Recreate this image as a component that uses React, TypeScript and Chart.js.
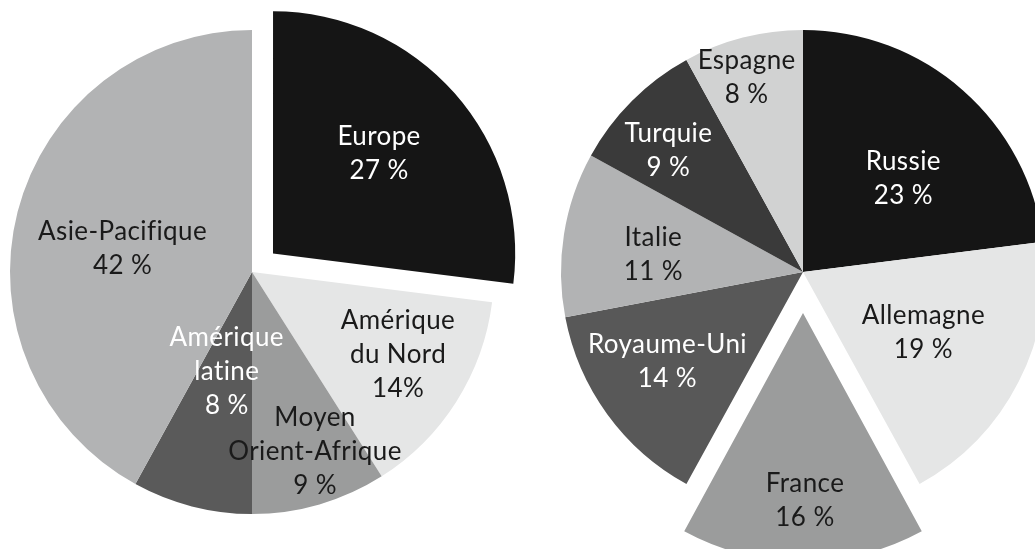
import React, { useEffect, useRef } from "react";
import { Chart, registerables } from "chart.js";

Chart.register(...registerables);

// ---------- Data ----------
const leftCategories = ["Europe", "Amérique du Nord", "Moyen Orient-Afrique", "Amérique latine", "Asie-Pacifique"];
const leftValues = [27, 14, 9, 8, 42];
const leftLabelLines = [
  ["Europe", "27 %"],
  ["Amérique", "du Nord", "14%"],
  ["Moyen", "Orient-Afrique", "9 %"],
  ["Amérique", "latine", "8 %"],
  ["Asie-Pacifique", "42 %"],
];

const rightCategories = ["Russie", "Allemagne", "France", "Royaume-Uni", "Italie", "Turquie", "Espagne"];
const rightValues = [23, 19, 16, 14, 11, 9, 8];
const rightLabelLines = [
  ["Russie", "23 %"],
  ["Allemagne", "19 %"],
  ["France", "16 %"],
  ["Royaume-Uni", "14 %"],
  ["Italie", "11 %"],
  ["Turquie", "9 %"],
  ["Espagne", "8 %"],
];

// ---------- Styles ----------
// Chart.js translates an offset slice by offset / 4 pixels
const leftColors = ["#151515", "#e5e6e6", "#9b9c9c", "#5a5a5a", "#b2b3b4"];
const leftOffsets = [112, 0, 0, 0, 0];
const leftTextColors = ["#ffffff", "#1a1a1a", "#1a1a1a", "#ffffff", "#1a1a1a"];
const leftLabelAngles = [47.0, 119.3, 160.6, 194.3, 280.5];
const leftLabelRadii = [0.718, 0.692, 0.784, 0.422, 0.544];

const rightColors = ["#151515", "#e5e6e6", "#9b9c9c", "#585858", "#b2b3b4", "#3a3a3a", "#d1d2d2"];
const rightOffsets = [0, 0, 164, 0, 0, 0, 0];
const rightTextColors = ["#ffffff", "#1a1a1a", "#1a1a1a", "#ffffff", "#1a1a1a", "#ffffff", "#1a1a1a"];
const rightLabelAngles = [46.9, 116.5, 179.5, 236.6, 277.0, 312.3, 343.9];
const rightLabelRadii = [0.568, 0.556, 0.942, 0.671, 0.623, 0.752, 0.839];

const FONT_FAMILY = "Lato";
const FONT_SIZE = 26;
const LETTER_SPACING = "0.4px";
const LINE_HEIGHT = 34;
const PIE_RADIUS = 242;

type PieCfg = {
  categories: string[];
  values: number[];
  colors: string[];
  offsets: number[];
  lines: string[][];
  textColors: string[];
  angles: number[];
  radii: number[];
};

const labelPlugin = {
  id: "sliceLabels",
  afterDatasetsDraw(chart: any, _args: any, opts: any) {
    const cfg: PieCfg = opts.cfg;
    if (!cfg) return;
    const meta = chart.getDatasetMeta(0);
    const ctx = chart.ctx;
    ctx.save();
    ctx.font = `${FONT_SIZE}px ${FONT_FAMILY}`;
    try {
      (ctx as any).letterSpacing = LETTER_SPACING;
    } catch (e) {}
    ctx.textAlign = "center";
    ctx.textBaseline = "alphabetic";
    meta.data.forEach((arc: any, i: number) => {
      const { x, y, outerRadius } = arc.getProps(["x", "y", "outerRadius"], true);
      const a = (cfg.angles[i] * Math.PI) / 180;
      const r = cfg.radii[i] * outerRadius;
      const cx = x + r * Math.sin(a);
      const cy = y - r * Math.cos(a);
      const lines = cfg.lines[i];
      ctx.fillStyle = cfg.textColors[i];
      lines.forEach((t, k) => {
        const ly = cy + (k - (lines.length - 1) / 2) * LINE_HEIGHT;
        ctx.fillText(t, cx, ly + 9);
      });
    });
    ctx.restore();
  },
};

function PieCanvas({ cfg, left, top, width, height }: { cfg: PieCfg; left: number; top: number; width: number; height: number }) {
  const ref = useRef<HTMLCanvasElement>(null);
  useEffect(() => {
    if (!ref.current) return;
    const chart = new Chart(ref.current, {
      type: "pie",
      data: {
        labels: cfg.categories,
        datasets: [
          {
            data: cfg.values,
            backgroundColor: cfg.colors,
            offset: cfg.offsets,
            hoverOffset: 0,
            borderWidth: 0,
          },
        ],
      },
      options: {
        responsive: false,
        animation: false,
        events: [],
        radius: PIE_RADIUS,
        layout: { padding: 0 },
        plugins: {
          legend: { display: false },
          tooltip: { enabled: false },
          title: { display: false },
          sliceLabels: { cfg },
        } as any,
      } as any,
      plugins: [labelPlugin],
    });
    let alive = true;
    if ((document as any).fonts && (document as any).fonts.load) {
      (document as any).fonts.load(`${FONT_SIZE}px ${FONT_FAMILY}`).then(() => {
        if (alive) chart.draw();
      });
    }
    return () => {
      alive = false;
      chart.destroy();
    };
  }, []);
  return (
    <canvas
      ref={ref}
      width={width}
      height={height}
      style={{ position: "absolute", left, top, width, height }}
    />
  );
}

export default function App() {
  const leftCfg: PieCfg = {
    categories: leftCategories,
    values: leftValues,
    colors: leftColors,
    offsets: leftOffsets,
    lines: leftLabelLines,
    textColors: leftTextColors,
    angles: leftLabelAngles,
    radii: leftLabelRadii,
  };
  const rightCfg: PieCfg = {
    categories: rightCategories,
    values: rightValues,
    colors: rightColors,
    offsets: rightOffsets,
    lines: rightLabelLines,
    textColors: rightTextColors,
    angles: rightLabelAngles,
    radii: rightLabelRadii,
  };
  return (
    <div
      style={{
        position: "absolute",
        left: 0,
        top: 0,
        width: 1035,
        height: 549,
        overflow: "hidden",
        background: "#ffffff",
      }}
    >
      <PieCanvas cfg={leftCfg} left={-48} top={-28} width={600} height={600} />
      <PieCanvas cfg={rightCfg} left={503} top={-28} width={600} height={600} />
    </div>
  );
}
